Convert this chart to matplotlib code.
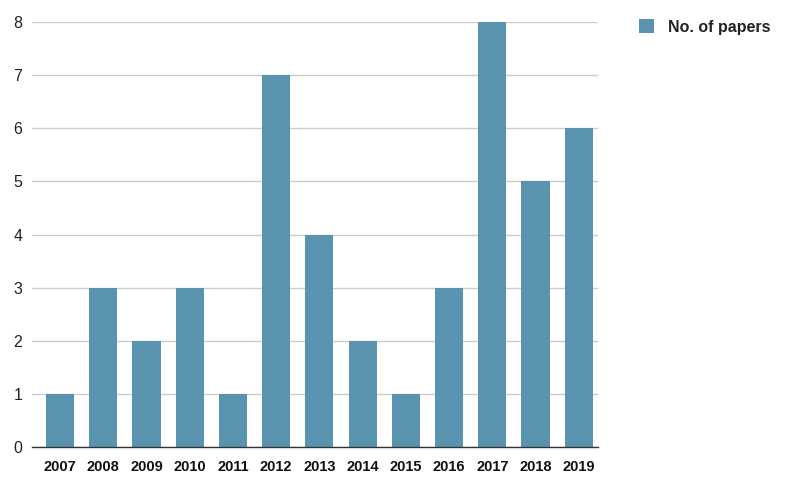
import matplotlib.pyplot as plt
from matplotlib.patches import Patch

years = ['2007', '2008', '2009', '2010', '2011', '2012', '2013',
         '2014', '2015', '2016', '2017', '2018', '2019']
papers = [1, 3, 2, 3, 1, 7, 4, 2, 1, 3, 8, 5, 6]

plt.rcParams['font.family'] = ['Liberation Sans', 'DejaVu Sans']

fig = plt.figure(figsize=(7.86, 4.82), dpi=100)
ax = fig.add_axes([0.0407, 0.0726, 0.7203, 0.8817])

bar_color = '#5a93b0'
ax.bar(range(len(years)), papers, width=0.65, color=bar_color, zorder=2)

ax.set_xlim(-0.65, 12.45)
ax.set_ylim(0, 8)
ax.set_yticks(range(0, 9))
ax.set_xticks(range(len(years)))
ax.set_xticklabels(years, fontweight='bold', fontsize=10.5)
ax.tick_params(axis='y', labelsize=11.5, length=0, pad=7, colors='#222222')
ax.tick_params(axis='x', length=0, pad=9, colors='#111111')

ax.grid(axis='y', color='#cccccc', linewidth=1, zorder=0)
for s in ['top', 'right', 'left']:
    ax.spines[s].set_visible(False)
ax.spines['bottom'].set_color('#333333')
ax.spines['bottom'].set_linewidth(1)
ax.spines['bottom'].set_zorder(3)

handle = Patch(facecolor=bar_color, edgecolor='none', label='No. of papers')
fig.legend(handles=[handle], loc='upper left', bbox_to_anchor=(0.795, 0.99),
           frameon=False, prop={'weight': 'bold', 'size': 11.5},
           handlelength=0.95, handleheight=0.95, handletextpad=0.85,
           labelcolor='#222222')

fig.savefig('out.png', dpi=100)
